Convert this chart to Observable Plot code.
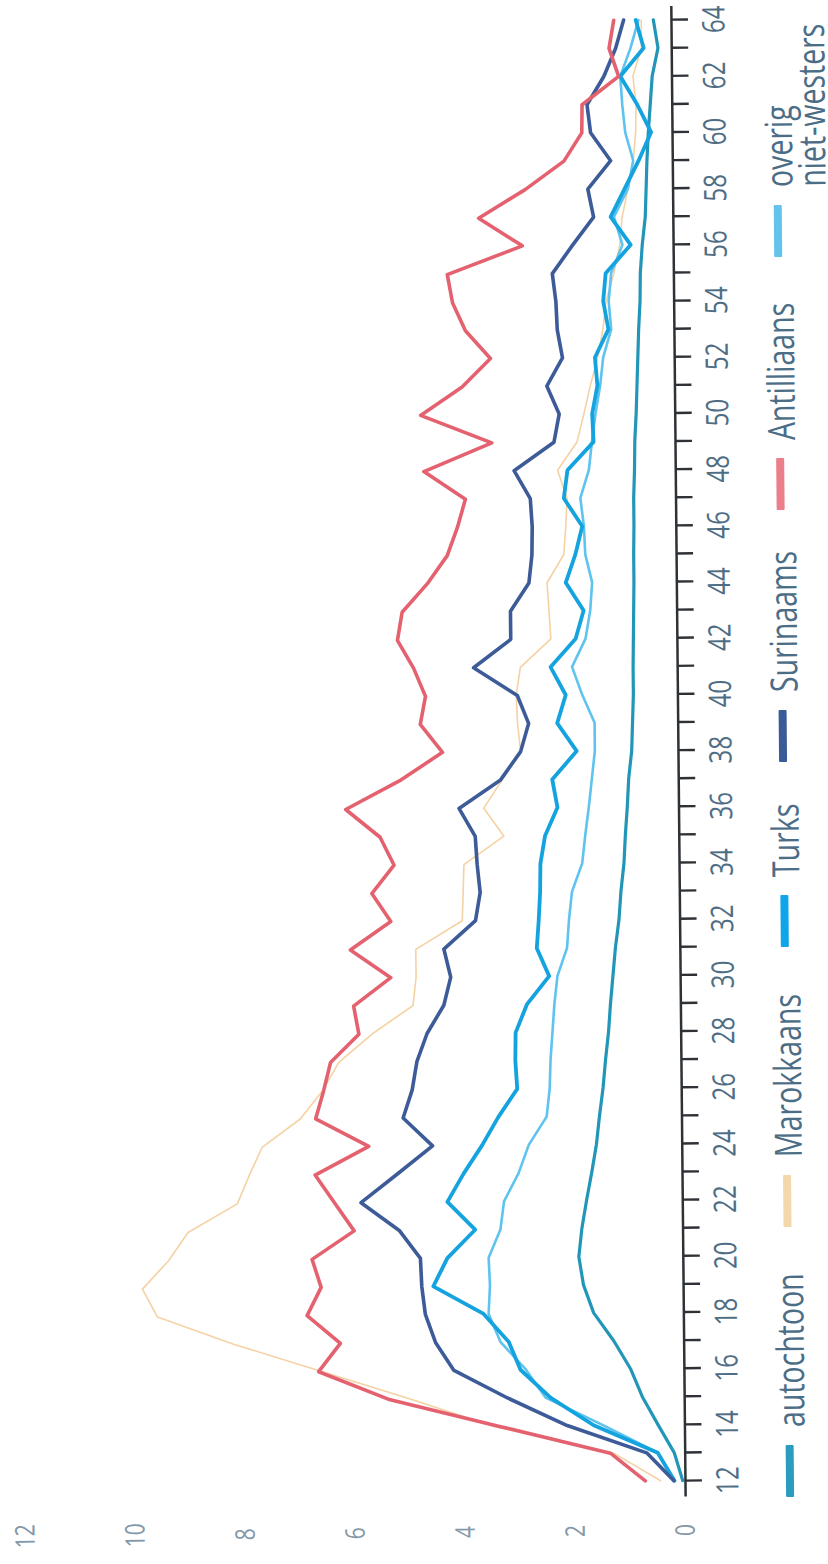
<!DOCTYPE html>
<html>
<head>
<meta charset="utf-8">
<script src="https://cdn.jsdelivr.net/npm/d3@7"></script>
<script src="https://cdn.jsdelivr.net/npm/@observablehq/plot@0.6"></script>
<style>
  html, body { margin: 0; padding: 0; width: 828px; height: 1564px; overflow: hidden; background: #ffffff; }
  #rot {
    position: absolute; left: 0; top: 0; width: 1564px; height: 860px;
    transform-origin: 0 0;
    transform: translate(0.8px, 1570.6px) rotate(-90.55deg);
    font-family: "Open Sans", "Noto Sans", sans-serif;
  }
  #chart svg { display: block; }
  #legend {
    position: absolute; left: 0; top: 773px; width: 1564px; height: 80px;
    font-size: 37.5px; line-height: 36px; color: #4c6d86;
  }
  .sw { position: absolute; top: 13px; width: 52px; height: 8px; border-radius: 1px; }
  .lab { position: absolute; top: 0; white-space: nowrap; transform-origin: 0 0; transform: scaleX(0.76); }
  .lab.two { line-height: 33px; top: 1px; }
</style>
</head>
<body>
<div id="rot">
  <div id="chart"></div>
  <div id="legend"></div>
</div>
<script>
// ---- data (percentages by age) ----
const ages = d3.range(12, 65);
const valueTicks = [0, 2, 4, 6, 8, 10, 12];

const seriesNames = ["autochtoon", "Marokkaans", "Turks", "Surinaams", "Antilliaans", "overig niet-westers"];

const autochtoon = [0.05,0.2,0.49,0.77,0.98,1.28,1.64,1.82,1.9,1.84,1.75,1.65,1.56,1.5,1.43,1.38,1.32,1.28,1.23,1.18,1.11,1.07,1.01,0.98,0.94,0.91,0.85,0.83,0.81,0.81,0.8,0.79,0.78,0.78,0.77,0.77,0.75,0.74,0.71,0.69,0.67,0.65,0.62,0.61,0.57,0.51,0.49,0.47,0.44,0.4,0.36,0.25,0.33];
const marokkaans = [0.45,1.3,3.49,4.99,6.58,8.18,9.57,9.84,9.36,9.0,8.1,7.88,7.64,6.94,6.53,6.23,5.62,4.87,4.81,4.81,3.96,3.94,3.92,3.19,3.55,3.21,2.87,2.92,2.94,2.86,2.3,2.33,2.36,2.05,2.01,1.98,2.15,1.79,1.66,1.54,1.4,1.3,1.24,1.09,0.98,0.93,0.82,0.72,0.67,0.66,0.71,0.55,0.55];
const turks = [0.2,0.5,1.66,2.44,2.98,3.19,3.64,4.55,4.29,3.78,4.28,3.98,3.64,3.34,2.99,3.02,3.01,2.8,2.39,2.61,2.57,2.54,2.53,2.44,2.21,2.3,1.85,2.2,2.04,2.31,1.85,1.7,2.02,1.84,1.71,2.04,1.97,1.49,1.51,1.41,1.45,1.2,1.29,1.24,0.78,1.14,0.88,0.62,0.39,0.64,0.94,0.51,0.65];
const surinaams = [0.21,0.7,2.14,3.22,4.19,4.52,4.7,4.76,4.78,5.16,5.85,5.19,4.54,5.07,4.9,4.81,4.62,4.31,4.18,4.3,3.72,3.63,3.68,3.71,4.0,3.24,2.87,2.72,2.92,3.71,3.03,3.03,2.69,2.63,2.62,2.65,2.94,2.21,2.11,2.33,2.04,2.13,2.15,2.21,1.84,1.45,1.55,1.13,1.49,1.55,1.24,1.02,0.87];
const antilliaans = [0.73,1.36,3.39,5.39,6.65,6.25,6.85,6.59,6.75,5.98,6.33,6.68,5.7,6.66,6.51,6.38,5.86,5.95,5.27,6.0,5.26,5.6,5.19,5.44,6.06,5.08,4.29,4.69,4.59,4.8,5.09,5.0,4.54,4.17,3.98,3.83,4.58,3.34,4.63,3.87,3.35,3.8,4.03,4.12,2.75,3.54,2.69,1.98,1.65,1.64,0.97,1.14,1.05];
const overig = [0.2,0.5,1.49,2.53,2.88,3.34,3.55,3.52,3.54,3.32,3.25,2.98,2.79,2.46,2.4,2.38,2.34,2.3,2.24,2.06,2.02,1.96,1.77,1.71,1.64,1.58,1.52,1.52,1.74,1.92,1.67,1.58,1.54,1.66,1.68,1.74,1.58,1.52,1.45,1.36,1.3,1.15,1.19,1.14,0.93,1.08,0.82,0.72,0.86,0.91,0.94,0.75,0.6];

// ---- styles ----
const lineColors = {
  "autochtoon": "#2296b8",
  "Marokkaans": "#f5d2a4",
  "Turks": "#14a3df",
  "Surinaams": "#3d5b98",
  "Antilliaans": "#e4626f",
  "overig niet-westers": "#5ec3ee"
};
const swatchColors = {
  "autochtoon": "#2a9cc0",
  "Marokkaans": "#f3d8aa",
  "Turks": "#10a5e8",
  "Surinaams": "#3a5a98",
  "Antilliaans": "#ec7e8b",
  "overig niet-westers": "#63c3ec"
};
const lineWidths = {
  "autochtoon": 3.2,
  "Marokkaans": 1.6,
  "Turks": 3.8,
  "Surinaams": 3.6,
  "Antilliaans": 3.6,
  "overig niet-westers": 2.6
};
// legend layout: left edge of each swatch (px, along the unrotated width)
const legendLeft = {
  "autochtoon": 66,
  "Marokkaans": 336,
  "Turks": 616,
  "Surinaams": 801,
  "Antilliaans": 1053,
  "overig niet-westers": 1306
};

const valuesBySeries = {
  "autochtoon": autochtoon,
  "Marokkaans": marokkaans,
  "Turks": turks,
  "Surinaams": surinaams,
  "Antilliaans": antilliaans,
  "overig niet-westers": overig
};

const drawOrder = ["Marokkaans", "overig niet-westers", "autochtoon", "Turks", "Surinaams", "Antilliaans"];

const rows = s => valuesBySeries[s].map((v, i) => ({age: ages[i], value: v, series: s}));

const FONT = '"Open Sans", "Noto Sans", sans-serif';

const chart = Plot.plot({
  width: 1564,
  height: 760,
  marginLeft: 67.5,
  marginRight: 6,
  marginTop: 25,
  marginBottom: 75,
  x: {domain: [11.45, 64.5]},
  y: {domain: [0, 12]},
  style: {fontFamily: FONT, background: "transparent", overflow: "visible"},
  marks: [
    Plot.axisY({ticks: valueTicks, tickSize: 0, tickPadding: 34, textAnchor: "middle", fontSize: 27, fill: "#8398a8", label: null}),
    Plot.axisX({
      ticks: ages, tickSize: 17, tickPadding: 14,
      tickFormat: d => (d % 2 === 0 ? String(d) : ""),
      fontSize: 31, fill: "#4f6e85", stroke: "#2e3236", strokeWidth: 2.4, label: null
    }),
    ...drawOrder.map(s => Plot.line(rows(s), {
      x: "age", y: "value",
      stroke: lineColors[s], strokeWidth: lineWidths[s],
      strokeLinejoin: "round", strokeLinecap: "round"
    })),
    Plot.ruleY([0], {stroke: "#2e3236", strokeWidth: 2.5})
  ]
});
document.getElementById("chart").appendChild(chart);

// condense the tick labels horizontally around their anchor (narrow typeface look)
chart.querySelectorAll('g[aria-label$="tick label"] text').forEach(el => {
  const ax = parseFloat(el.getAttribute("x") || 0);
  const t = el.getAttribute("transform") || "";
  el.setAttribute("transform", `${t} translate(${ax},0) scale(0.78,1) translate(${-ax},0)`);
});

// ---- legend ----
const legend = document.getElementById("legend");
for (const s of seriesNames) {
  const sw = document.createElement("div");
  sw.className = "sw";
  sw.style.left = legendLeft[s] + "px";
  sw.style.background = swatchColors[s];
  const label = document.createElement("div");
  label.className = "lab";
  label.style.left = (legendLeft[s] + 70) + "px";
  if (s === "overig niet-westers") {
    label.classList.add("two");
    label.innerHTML = "overig<br>niet-westers";
  } else {
    label.textContent = s;
  }
  legend.appendChild(sw);
  legend.appendChild(label);
}
</script>
</body>
</html>
